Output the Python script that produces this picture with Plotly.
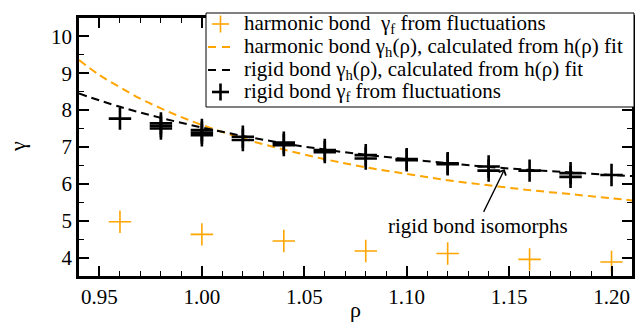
import plotly.graph_objects as go

# Harmonic bond, gamma from fluctuations
harm_rho = [0.96, 1.00, 1.04, 1.08, 1.12, 1.16, 1.20]
harm_gamma = [4.97, 4.63, 4.45, 4.18, 4.11, 3.95, 3.88]

# Rigid bond, gamma from fluctuations (several state points per density)
rigid_rho = [0.96, 0.98, 0.98, 0.98, 1.00, 1.00, 1.00, 1.02, 1.02, 1.04, 1.04,
             1.06, 1.06, 1.08, 1.08, 1.10, 1.10, 1.12, 1.12, 1.14, 1.14, 1.16,
             1.18, 1.18, 1.20]
rigid_gamma = [7.77, 7.64, 7.57, 7.50, 7.46, 7.39, 7.32, 7.28, 7.19, 7.12, 7.05,
               6.92, 6.86, 6.78, 6.69, 6.67, 6.64, 6.56, 6.53, 6.47, 6.36, 6.36,
               6.29, 6.19, 6.24]

# Harmonic bond gamma_h(rho) curve
harm_fit_rho = [0.94, 0.95, 0.96, 0.97, 0.98, 0.99, 1.00, 1.02, 1.04, 1.06, 1.08,
                1.10, 1.12, 1.14, 1.16, 1.18, 1.20, 1.21]
harm_fit_gamma = [9.36, 8.95, 8.62, 8.31, 8.05, 7.81, 7.60, 7.23, 6.93, 6.67, 6.45,
                  6.27, 6.10, 5.96, 5.83, 5.72, 5.61, 5.55]

# Rigid bond gamma_h(rho) curve
rigid_fit_rho = [0.94, 0.96, 0.98, 1.00, 1.02, 1.04, 1.06, 1.08, 1.10, 1.12,
                 1.14, 1.16, 1.18, 1.20, 1.21]
rigid_fit_gamma = [8.45, 8.09, 7.79, 7.53, 7.30, 7.10, 6.93, 6.79, 6.67, 6.56,
                   6.46, 6.38, 6.31, 6.24, 6.21]

# legend labels (in legend order)
legend_labels = [
    "harmonic bond\u00a0\u00a0γ<sub>f</sub> from fluctuations",
    "harmonic bond γ<sub>h</sub>(ρ), calculated from h(ρ) fit",
    "rigid bond γ<sub>h</sub>(ρ), calculated from h(ρ) fit",
    "rigid bond γ<sub>f</sub> from fluctuations",
]

ORANGE = "#FFA500"
FONT = "Liberation Serif"

W, H = 635, 324
L, R, T, B = 79, 3, 18, 48
pw, ph = W - L - R, H - T - B


def px(x):
    return (x - L) / pw


def py(y):
    return (H - B - y) / ph


fig = go.Figure()
fig.add_trace(go.Scatter(
    x=harm_fit_rho, y=harm_fit_gamma, mode="lines", line_shape="spline",
    line=dict(color=ORANGE, width=2, dash="8px,5px"), showlegend=False))
fig.add_trace(go.Scatter(
    x=rigid_fit_rho, y=rigid_fit_gamma, mode="lines", line_shape="spline",
    line=dict(color="black", width=2, dash="8px,5px"), showlegend=False))
fig.add_trace(go.Scatter(
    x=harm_rho, y=harm_gamma, mode="markers", showlegend=False,
    marker=dict(symbol="cross-thin", size=16, line=dict(color=ORANGE, width=1.6))))
fig.add_trace(go.Scatter(
    x=rigid_rho, y=rigid_gamma, mode="markers", showlegend=False,
    marker=dict(symbol="cross-thin", size=16, line=dict(color="black", width=2.6))))

fig.add_annotation(x=1.1478, y=6.40, ax=1.1372, ay=5.20, axref="x", ayref="y",
                   xref="x", yref="y", text="", showarrow=True, arrowhead=4,
                   arrowsize=1.2, arrowwidth=1.3, arrowcolor="black")
fig.add_annotation(x=1.1346, y=4.86, xref="x", yref="y", text="rigid bond isomorphs",
                   showarrow=False, xanchor="center", yanchor="middle",
                   font=dict(family=FONT, size=21, color="black"))

# axis titles
fig.add_annotation(x=px(17), y=py(147), xref="paper", yref="paper", text="γ",
                   showarrow=False, textangle=-90, xanchor="center", yanchor="middle",
                   font=dict(family=FONT, size=22, color="black"))
fig.add_annotation(x=px(355), y=py(309), xref="paper", yref="paper", text="ρ",
                   showarrow=False, xanchor="center", yanchor="middle",
                   font=dict(family=FONT, size=22, color="black"))

# hand-built legend box
fig.add_shape(type="rect", xref="paper", yref="paper", layer="above",
              x0=px(206), x1=px(634), y0=py(107), y1=py(13),
              line=dict(color="black", width=1), fillcolor="white")
rows = [24, 47, 70, 92]
styles = [("cross", ORANGE, 1.6), ("dash", ORANGE, 2), ("dash", "black", 2),
          ("cross", "black", 2.6)]
for yr, (kind, col, w), lab in zip(rows, styles, legend_labels):
    if kind == "cross":
        fig.add_shape(type="line", xref="paper", yref="paper", layer="above",
                      x0=px(212), x1=px(229), y0=py(yr), y1=py(yr),
                      line=dict(color=col, width=w))
        fig.add_shape(type="line", xref="paper", yref="paper", layer="above",
                      x0=px(220.5), x1=px(220.5), y0=py(yr - 8.5), y1=py(yr + 8.5),
                      line=dict(color=col, width=w))
    else:
        fig.add_shape(type="line", xref="paper", yref="paper", layer="above",
                      x0=px(208), x1=px(233), y0=py(yr), y1=py(yr),
                      line=dict(color=col, width=w, dash="8px,6px"))
    fig.add_annotation(x=px(243), y=py(yr), xref="paper", yref="paper", text=lab,
                       showarrow=False, xanchor="left", yanchor="middle",
                       height=22, valign="middle", borderpad=0,
                       font=dict(family=FONT, size=21, color="black"))

axis_common = dict(
    showline=True, linecolor="black", linewidth=2.5, mirror="ticks",
    ticks="inside", ticklen=10, tickwidth=1.5, tickcolor="black",
    showgrid=False, zeroline=False, automargin=False,
    tickfont=dict(family=FONT, size=21, color="black"),
)

fig.update_xaxes(range=[0.94, 1.21], tick0=0.95, dtick=0.05, tickformat=".2f",
                 minor=dict(dtick=0.01, ticks="inside", ticklen=5, tickwidth=1.2,
                            tickcolor="black", showgrid=False),
                 **axis_common)
fig.update_yaxes(range=[3.5, 10.5], tick0=4, dtick=1,
                 minor=dict(dtick=0.5, ticks="inside", ticklen=5, tickwidth=1.2,
                            tickcolor="black", showgrid=False),
                 **axis_common)

fig.update_layout(
    width=W, height=H,
    margin=dict(l=L, r=R, t=T, b=B, autoexpand=False),
    paper_bgcolor="white", plot_bgcolor="white",
    font=dict(family=FONT, size=19, color="black"),
    showlegend=False,
)

fig.write_html("out.html", config={"displayModeBar": False},
               post_script="document.body.style.margin='0';document.body.style.padding='0';")
